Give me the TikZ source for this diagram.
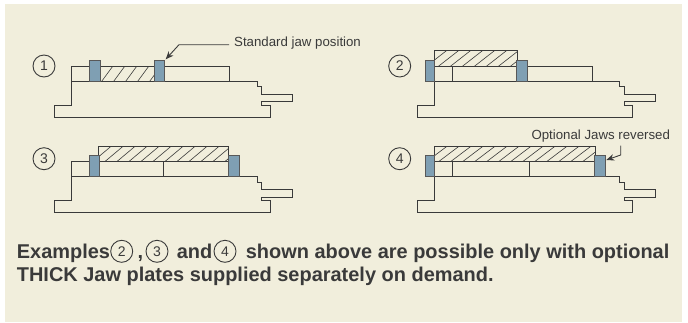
\documentclass[tikz,border=0pt]{standalone}
\usepackage{fontspec}
\setmainfont{Liberation Sans}
\usetikzlibrary{arrows.meta}
\definecolor{paper}{HTML}{F1EEDC}
\definecolor{ink}{HTML}{3A3A3A}
\definecolor{jawblue}{HTML}{7F9FB3}
\tikzset{
  outline/.style={draw=ink,line width=0.9pt,line join=miter},
  jawblock/.style={draw=ink!85,line width=1pt,fill=jawblue},
  hatchline/.style={draw=ink,line width=0.6pt},
  numcircle/.style={circle,draw=ink,line width=0.9pt,minimum size=22pt,inner sep=0pt,text=ink,font=\fontsize{14}{14}\selectfont},
  smalllabel/.style={anchor=base west,inner sep=0pt,text=ink,font=\fontsize{13.25}{15}\selectfont},
  boldlabel/.style={anchor=base west,inner sep=0pt,text=ink,font=\fontsize{19.95}{22}\selectfont\bfseries},
  leader/.style={draw=ink,line width=0.9pt,-{Stealth[length=8pt,width=6.5pt]}}
}
\newcommand{\vicebase}{%
  \draw[outline] (71.7,81.3) -- (71.7,105.3) -- (54.3,105.3) -- (54.3,117) -- (270,117) -- (270,105.3) -- (261.7,105.3) -- (261.7,101.7) -- (292.7,101.7) -- (292.7,94) -- (261.7,94) -- (261.7,86.7) -- (257,86.7) -- (257,81.3) -- cycle;
}
\newcommand{\hatchbox}[5]{%
  \begin{scope}
    \clip (#1,#2) rectangle (#3,#4);
    \pgfmathsetmacro{\hstart}{#1-#5}
    \pgfmathsetmacro{\hnext}{#1-#5+12}
    \foreach \hx in {\hstart,\hnext,...,#3} {
      \pgfmathsetmacro{\hy}{\hx+#5}
      \draw[hatchline] (\hx,#4) -- (\hy,#2);
    }
  \end{scope}
  \draw[outline] (#1,#2) rectangle (#3,#4);
}
\begin{document}
\begin{tikzpicture}[x=1pt,y=-1pt]
\useasboundingbox (0,0) rectangle (688,322);
\fill[paper] (5,4) rectangle (682,322);

% Example 1
\vicebase
\draw[outline] (71.7,66.3) rectangle (229.3,81.3);
\hatchbox{100.7}{66.3}{154.3}{81.3}{11}
\draw[jawblock] (89.7,60.3) rectangle (100.7,81.3);
\draw[jawblock] (154.3,60.3) rectangle (164.7,81.3);
\node[numcircle] (c1) at (44,66) {1};
\node[smalllabel] (std) at (234,46.5) {Standard jaw position};
\coordinate (stdtail) at (229,44.7);
\coordinate (stdbend) at (179,44.7);
\coordinate (stdtip) at (165.7,59.3);
\draw[leader] (stdtail) -- (stdbend) -- (stdtip);

% Example 2
\begin{scope}[shift={(362.7,0)}]
\vicebase
\draw[outline] (71.7,66.3) rectangle (89.7,81.3);
\draw[outline] (89.7,81.3) -- (154.3,81.3);
\draw[outline] (164.7,66.3) rectangle (229.3,81.3);
\hatchbox{71.7}{50.7}{154.3}{66.3}{20}
\draw[jawblock] (62.6,60.3) rectangle (71.7,81.3);
\draw[jawblock] (154,60.3) rectangle (164.3,81.3);
\node[numcircle] (c2) at (37,66) {2};
\end{scope}

% Example 3
\begin{scope}[shift={(0,95.5)}]
\vicebase
\draw[outline] (71.7,66.3) rectangle (89.7,81.3);
\draw[outline] (99,66.3) rectangle (228.7,81.3);
\draw[outline] (163.3,66.3) -- (163.3,81.3);
\hatchbox{98.6}{51.2}{228.7}{66.3}{18}
\draw[jawblock] (89.7,59.8) rectangle (99,81.3);
\draw[jawblock] (228.7,59.8) rectangle (239,81.3);
\node[numcircle] (c3) at (44,63.2) {3};
\end{scope}

% Example 4
\begin{scope}[shift={(362.7,95.5)}]
\vicebase
\draw[outline] (71.7,66.3) rectangle (89.7,81.3);
\draw[outline] (89.7,81.3) -- (166.6,81.3);
\draw[outline] (166.6,66.3) rectangle (232,81.3);
\hatchbox{71.7}{51.2}{232.6}{66.3}{20}
\draw[jawblock] (62.6,59.8) rectangle (71.7,81.3);
\draw[jawblock] (232,59.8) rectangle (242.6,81.3);
\node[numcircle] (c4) at (37,63.2) {4};
\end{scope}
\node[smalllabel] (opt) at (531.3,139.3) {Optional Jaws reversed};
\coordinate (opttail) at (620.7,145.7);
\coordinate (optbend) at (620.7,155);
\coordinate (opttip) at (606.3,160);
\draw[leader] (opttail) -- (optbend) -- (opttip);

% Caption
\node[boldlabel] (ex) at (16.7,258.3) {Examples};
\node[numcircle] (t2) at (121.7,251.3) {2};
\node[boldlabel] (comma) at (137.5,258.3) {,};
\node[numcircle] (t3) at (157,251.3) {3};
\node[boldlabel] (and) at (176.7,258.3) {and};
\node[numcircle] (t4) at (225,251.3) {4};
\node[boldlabel] (rest) at (245.7,258.3) {shown above are possible only with optional};
\node[boldlabel] (line2) at (16.7,281) {THICK Jaw plates supplied separately on demand.};
\end{tikzpicture}
\end{document}
